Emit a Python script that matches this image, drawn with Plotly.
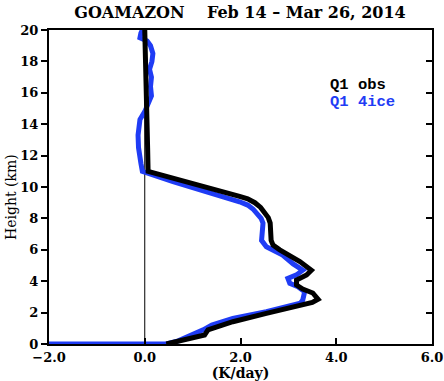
import plotly.graph_objects as go

# Q1 observed profile (K/day) vs height (km)
obs_q1 = [0.45, 1.01, 1.25, 1.32, 1.5, 1.84, 2.54, 3.24, 3.5, 3.62, 3.51, 3.3, 3.17, 3.17, 3.38, 3.48, 3.24,
          2.82, 2.68, 2.64, 2.64, 2.62, 2.58, 2.52, 2.42, 2.3, 2.15, 1.98, 1.29, 0.59, 0.07, 0.06, 0.05,
          0.03, 0.01, 0.0]
obs_h = [0.0, 0.36, 0.57, 0.9, 1.1, 1.42, 1.95, 2.48, 2.65, 2.85, 3.25, 3.5, 3.76, 4.08, 4.4, 4.7, 5.25,
         6.0, 6.3, 6.6, 7.3, 7.7, 8.05, 8.35, 8.7, 9.0, 9.25, 9.4, 10.0, 10.55, 11.0, 12.5, 14.3,
         16.0, 18.0, 20.0]

# Q1 from 4ice simulation
ice_q1 = [-2.5, 0.45, 0.7, 1.01, 1.22, 1.4, 1.84, 2.54, 3.03, 3.25, 3.3, 3.34, 3.2, 3.03, 2.99, 3.17, 3.3,
          3.1, 2.88, 2.54, 2.44, 2.46, 2.47, 2.43, 2.36, 2.26, 2.15, 1.98, 0.59, 0.1, -0.05, -0.08, -0.13,
          -0.14, -0.1, 0.0, 0.07, 0.14, 0.12, 0.14, 0.1, 0.15, 0.17, 0.12, 0.05, -0.1, -0.08, -0.05]
ice_h = [0.0, 0.0, 0.2, 0.57, 0.9, 1.2, 1.63, 2.06, 2.38, 2.6, 2.8, 3.33, 3.65, 3.87, 4.18, 4.4, 4.7,
         5.1, 5.67, 6.2, 6.6, 7.2, 7.7, 8.0, 8.3, 8.6, 8.85, 9.06, 10.34, 10.85, 11.0, 11.5, 12.5,
         13.3, 14.3, 14.8, 15.3, 15.8, 16.4, 17.0, 17.5, 18.0, 18.5, 19.0, 19.3, 19.5, 19.8, 20.0]

x_ticks = [-2, 0, 2, 4, 6]
x_tick_labels = ["\u22122.0", "0.0", "2.0", "4.0", "6.0"]
y_ticks = list(range(0, 21, 2))
y_tick_labels = [str(v) for v in y_ticks]

BLUE = "#1f3cf5"
SERIF = "DejaVu Serif"

fig = go.Figure()
# zero reference line
fig.add_trace(go.Scatter(x=[0, 0], y=[0, 20], mode="lines",
                         line=dict(color="black", width=1), showlegend=False, hoverinfo="skip"))
fig.add_trace(go.Scatter(x=ice_q1, y=ice_h, mode="lines",
                         line=dict(color=BLUE, width=5), showlegend=False))
fig.add_trace(go.Scatter(x=obs_q1, y=obs_h, mode="lines",
                         line=dict(color="black", width=5), showlegend=False))
# invisible trace for right-side axis ticks
fig.add_trace(go.Scatter(x=[None], y=[None], yaxis="y2", showlegend=False))

fig.update_layout(
    width=444, height=381,
    margin=dict(l=49, r=12, t=30, b=37, autoexpand=False),
    paper_bgcolor="white", plot_bgcolor="white",
    title=dict(text="<b>GOAMAZON    Feb 14 \u2013 Mar 26, 2014</b>",
               x=240 / 444, xanchor="center", y=1 - 12 / 381, yanchor="middle",
               font=dict(family=SERIF, size=16, color="black")),
    xaxis=dict(range=[-2, 6], tickvals=x_ticks,
               ticktext=["<b>%s</b>" % t for t in x_tick_labels],
               ticks="inside", ticklen=6, tickwidth=1.5, tickcolor="black",
               showline=True, linecolor="black", linewidth=2, mirror=True,
               showgrid=False, zeroline=False, automargin=False,
               tickfont=dict(family=SERIF, size=13, color="black"),
               title=dict(text="<b>(K/day)</b>", standoff=8,
                          font=dict(family=SERIF, size=14, color="black"))),
    yaxis=dict(range=[0, 20], tickvals=y_ticks,
               ticktext=["<b>%s</b>" % t for t in y_tick_labels],
               ticks="outside", ticklen=6, tickwidth=1.5, tickcolor="black",
               showline=True, linecolor="black", linewidth=2, mirror=True,
               showgrid=False, zeroline=False, automargin=False,
               tickfont=dict(family=SERIF, size=13, color="black")),
    yaxis2=dict(range=[0, 20], tickvals=y_ticks, overlaying="y", side="right",
                ticks="inside", ticklen=6, tickwidth=1.5, tickcolor="black",
                showticklabels=False, showgrid=False, zeroline=False, showline=False,
                automargin=False),
    annotations=[
        dict(text="Height (km)", textangle=-90, x=(11 - 49) / 383, y=(344 - 197) / 314,
             xref="paper", yref="paper", xanchor="center", yanchor="middle", showarrow=False,
             font=dict(family=SERIF, size=14, color="black")),
        dict(text="<b>Q1 obs</b>", x=(328 - 49) / 383, y=(344 - 85) / 314, xref="paper", yref="paper",
             xanchor="left", yanchor="middle", showarrow=False,
             font=dict(family="Liberation Mono", size=15.5, color="black")),
        dict(text="<b>Q1 4ice</b>", x=(328 - 49) / 383, y=(344 - 102) / 314, xref="paper", yref="paper",
             xanchor="left", yanchor="middle", showarrow=False,
             font=dict(family="Liberation Mono", size=15.5, color=BLUE)),
    ],
)

fig.write_html("out.html")
